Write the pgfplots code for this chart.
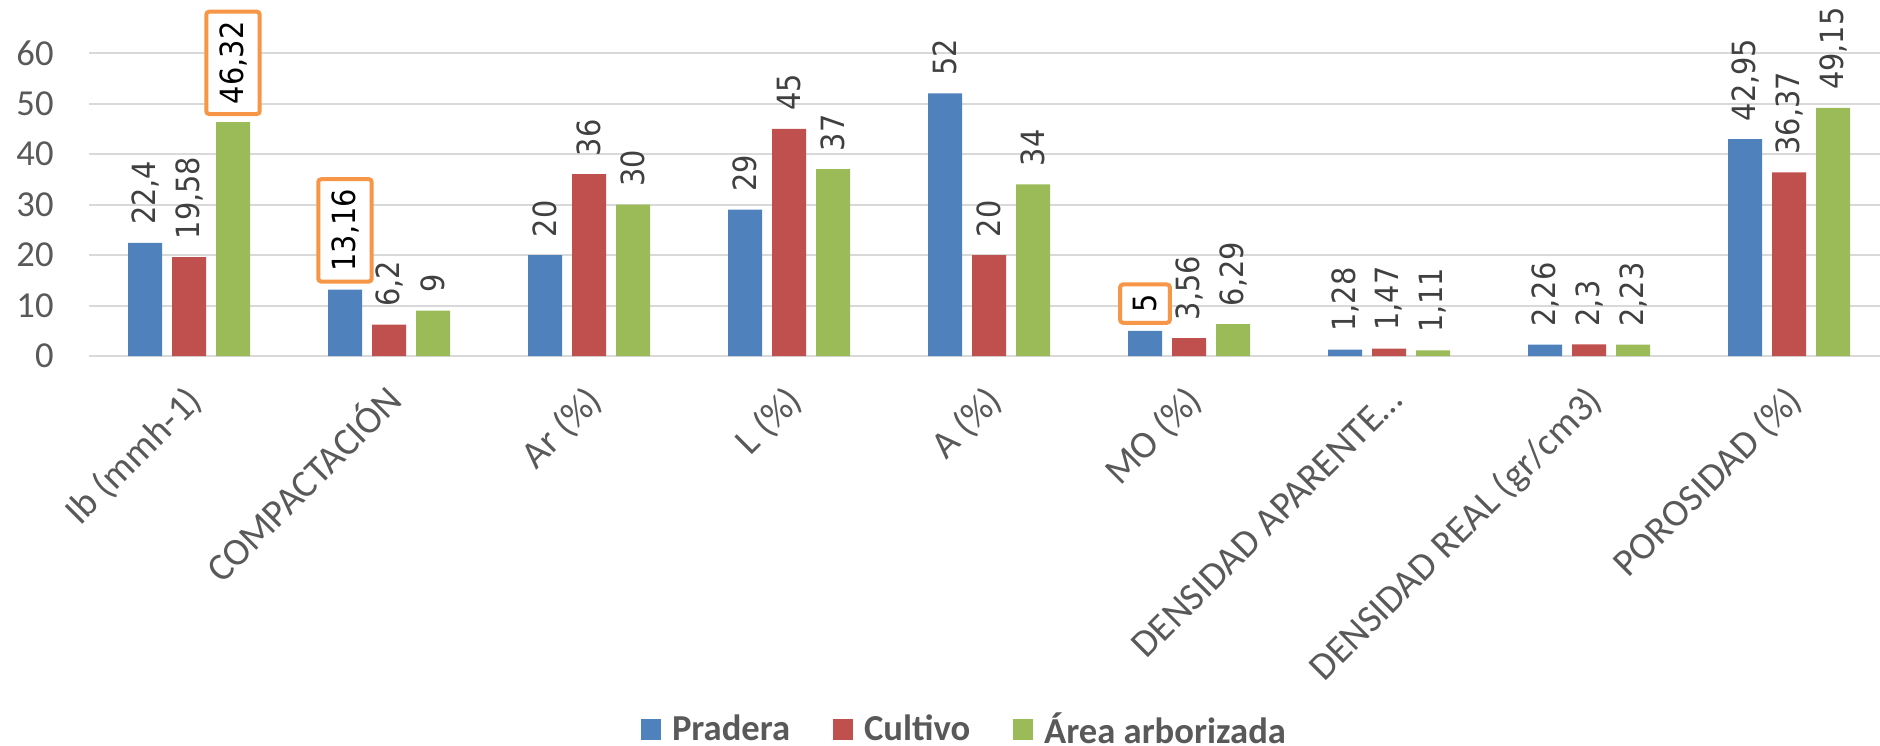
\documentclass[border=0pt]{standalone}
\usepackage{fontspec}
\setmainfont{Carlito}
\newfontfamily\lblfont{DejaVu Sans}[FakeStretch=0.9]
\usepackage{pgfplots}
\usepackage{pgfplotstable}
\pgfplotsset{compat=1.18}
\definecolor{cblue}{HTML}{4F81BD}
\definecolor{cred}{HTML}{C0504D}
\definecolor{cgreen}{HTML}{9BBB59}
\definecolor{gridc}{HTML}{D9D9D9}
\definecolor{tickc}{HTML}{595959}
\definecolor{lblc}{HTML}{404040}
\definecolor{boxc}{HTML}{F79646}

\pgfplotstableread{
x pr    cu    ar
0 22.4  19.58 46.32
1 13.16 6.2   9
2 20    36    30
3 29    45    37
4 52    20    34
5 5     3.56  6.29
6 1.28  1.47  1.11
7 2.26  2.3   2.23
8 42.95 36.37 49.15
}\datatable

\pgfplotsset{
  sqleg/.style={legend image code/.code={\fill[##1] (0pt,-5.4pt) rectangle (10pt,5pt);}},
  boxed/.style={forget plot, fill=none, draw=none,
     every node near coord/.append style={draw=boxc, fill=white, text=black}},
}

\begin{document}
\begin{tikzpicture}
\begin{axis}[
  scale only axis, width=895.5pt, height=151.5pt,
  xmin=-0.5, xmax=8.455, ymin=0, ymax=60,
  ybar, bar width=17pt,
  clip=false,
  axis line style={draw=none},
  major tick length=0pt,
  ymajorgrids, grid style={gridc, line width=1pt},
  ytick={0,10,...,60},
  xtick={0,1,...,8},
  xticklabels={Ib (mmh-1), COMPACTACIÓN, Ar (\%), L (\%), A (\%), MO (\%), DENSIDAD APARENTE…, DENSIDAD REAL (gr/cm3), POROSIDAD (\%)},
  /pgf/number format/assume math mode=true,
  /pgf/number format/use comma,
  ticklabel style={font=\fontsize{18.3}{22}\selectfont, text=tickc},
  yticklabel style={anchor=east, inner sep=0pt, xshift=-17.5pt},
  xticklabel style={font=\fontsize{19.3}{23}\selectfont, xshift=3pt, yshift=-18.5pt, rotate=45, anchor=north east, inner sep=0pt, text height=0.65em, text depth=0.15em},
  nodes near coords,
  every node near coord/.append style={rotate=90, anchor=west, font=\lblfont\fontsize{16}{19}\selectfont,
     text=lblc, inner xsep=5pt, inner ysep=6.5pt, outer xsep=4pt, line width=2pt, rounded corners=1.5pt},
  legend style={at={(axis description cs:0,0)}, anchor=south west, xshift=276pt, yshift=-195pt,
     draw=none, fill=none, inner sep=0pt, outer sep=0pt,
     font=\bfseries\fontsize{18.3}{22}\selectfont, text=tickc,
     nodes={inner sep=0pt},
     /tikz/every even column/.append style={column sep=21.5pt},
     /tikz/every odd column/.append style={column sep=5.5pt}},
  legend columns=3,
]
\addplot[fill=cblue, draw=none, sqleg, bar shift=-22pt] table[x=x, y=pr] {\datatable};
\addplot[fill=cred, draw=none, sqleg, bar shift=0pt] table[x=x, y=cu] {\datatable};
\addplot[fill=cgreen, draw=none, sqleg, bar shift=22pt] table[x=x, y=ar] {\datatable};
\legend{Pradera, Cultivo, Área arborizada}
% highlighted data labels (same values, drawn boxed on top)
\addplot[boxed, bar shift=-22pt] coordinates {(1,13.16) (5,5)};
\addplot[boxed, bar shift=22pt] coordinates {(0,46.32)};
\end{axis}
\pgfresetboundingbox
\path[use as bounding box] (-44.5pt,-194.5pt) rectangle (895.5pt,178pt);
\end{tikzpicture}
\end{document}
